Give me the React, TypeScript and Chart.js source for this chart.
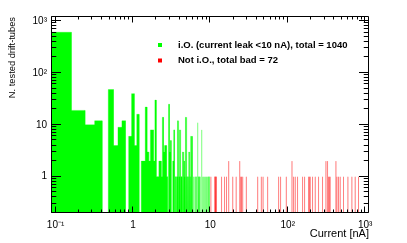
import { useEffect, useRef } from 'react';
import { Chart, registerables } from 'chart.js';

Chart.register(...registerables);

// ---- data ----
const BIN_WIDTH = 0.08; // nA, histogram bin width
const EMPTY = 0.01; // value used for the empty floor of a bin (below axis minimum)

// i.O. tubes: bin low edge [nA] and number of tubes
const goodCurrent = [
  0.08, 0.16, 0.24, 0.32, 0.48, 0.56, 0.64, 0.72, 0.88, 0.96,
  1.04, 1.12, 1.28, 1.36, 1.44, 1.52, 1.6, 1.68, 1.76, 1.84,
  1.92, 2.0, 2.08, 2.16, 2.24, 2.32, 2.4, 2.48, 2.56, 2.64,
  2.72, 2.88, 2.96, 3.04, 3.2, 3.28, 3.36, 3.52, 3.6, 3.68,
  3.76, 3.84, 3.92, 4.0, 4.08, 4.16, 4.24, 4.32, 4.4, 4.48,
  4.56, 4.64, 4.72, 4.8, 4.96, 5.12, 5.28, 5.44, 5.6, 5.76,
  5.84, 6.0, 6.24, 6.48, 6.8, 6.88, 7.12, 7.36, 7.68, 7.92,
  8.16, 8.4, 8.64, 8.88, 9.12, 9.36, 9.6,
];
const goodCount = [
  610, 19, 10, 12, 48, 4, 9, 12, 6, 40,
  4, 16, 2, 2, 22, 3, 2, 8, 8, 2,
  30, 1, 1, 2, 2, 1, 14, 3, 4, 4,
  1, 25, 3, 5, 2, 2, 8, 1, 1, 1,
  12, 11, 1, 8, 1, 1, 1, 3, 3, 2,
  2, 1, 1, 14, 1, 1, 3, 1, 6, 6,
  3, 1, 1, 1, 11, 1, 1, 1, 8, 1,
  1, 1, 1, 1, 1, 1, 1,
];

// Not i.O. tubes
const badCurrent = [
  10.1, 11.4, 11.8, 13.9, 15.2, 16.1, 17.2, 19.4, 21.5, 23.9,
  24.6, 25.2, 26.1, 29.1, 40.8, 45.5, 47.9, 54.9, 76.1, 80.7,
  95.7, 113.3, 118.8, 124.9, 133.7, 155.2, 164.8, 185.5, 190.5, 195.0,
  208.9, 226.4, 249.7, 281.1, 311.2, 326.4, 336.0, 345.0, 353.0, 418.8,
  431.5, 452.0, 475.6, 524.8, 598.0, 673.0, 743.0, 820.0,
];
const badCount = [
  1, 1, 1, 1, 1, 1, 2, 1, 1, 2,
  1, 1, 1, 1, 1, 1, 1, 1, 1, 1,
  1, 2, 1, 1, 1, 1, 1, 1, 1, 1,
  1, 1, 1, 1, 2, 2, 1, 1, 1, 2,
  1, 1, 1, 1, 1, 1, 1, 1,
];

const xTickValues = [0.1, 1, 10, 100, 1000];
const xTickLabels = ['10\u207B\u00B9', '1', '10', '10\u00B2', '10\u00B3'];
const yTickValues = [1, 10, 100, 1000];
const yTickLabels = ['1', '10', '10\u00B2', '10\u00B3'];

const legendLabels = ['i.O. (current leak <10 nA), total = 1040', 'Not i.O., total bad = 72'];
const xTitle = 'Current [nA]';
const yTitle = 'N. tested drift-tubes';

const GREEN = 'rgb(0,255,0)';
const RED = 'rgb(255,0,0)';
const FONT = "'Liberation Sans', Arial, Helvetica, sans-serif";

function histPoints(lows: number[], counts: number[]) {
  const pts: { x: number; y: number }[] = [];
  lows.forEach((lo, i) => {
    const hi = lo + BIN_WIDTH;
    pts.push({ x: lo, y: EMPTY }, { x: lo, y: counts[i] }, { x: hi, y: counts[i] }, { x: hi, y: EMPTY });
  });
  return pts;
}

const rootFrame = {
  id: 'rootFrame',
  afterDatasetsDraw(chart: any) {
    const { ctx, chartArea: a, scales } = chart;
    const xs = scales.x;
    const ys = scales.y;
    const L = a.left - 0.5;
    const R = a.right - 0.5;
    const T = a.top - 0.5;
    const B = a.bottom - 0.5;
    ctx.save();
    ctx.strokeStyle = '#000';
    ctx.lineWidth = 1;
    ctx.beginPath();
    ctx.rect(L, T, R - L, B - T);
    for (let e = -2; e <= 4; e++) {
      for (let m = 1; m <= 9; m++) {
        const v = m * Math.pow(10, e);
        if (v >= xs.min && v <= xs.max) {
          const px = Math.round(xs.getPixelForValue(v)) - 0.5;
          const len = m === 1 ? 6 : 3;
          ctx.moveTo(px, B);
          ctx.lineTo(px, B - len);
          ctx.moveTo(px, T);
          ctx.lineTo(px, T + len);
        }
        if (v >= ys.min && v <= ys.max) {
          const py = Math.round(ys.getPixelForValue(v)) - 0.5;
          const len = m === 1 ? 9.5 : 4.75;
          ctx.moveTo(L, py);
          ctx.lineTo(L + len, py);
          ctx.moveTo(R, py);
          ctx.lineTo(R - len, py);
        }
      }
    }
    ctx.stroke();
    ctx.restore();
  },
};

const rootLegend = {
  id: 'rootLegend',
  afterDraw(chart: any) {
    const { ctx } = chart;
    const colors = [GREEN, RED];
    const rows = [45, 60.5];
    ctx.save();
    ctx.font = `bold 9.5px ${FONT}`;
    ctx.textBaseline = 'middle';
    ctx.textAlign = 'left';
    legendLabels.forEach((label, i) => {
      ctx.fillStyle = colors[i];
      ctx.fillRect(158, rows[i] - 2, 4, 4);
      ctx.fillStyle = '#000';
      ctx.fillText(label, 178, rows[i]);
    });
    ctx.restore();
  },
};

export default function App() {
  const canvasRef = useRef<HTMLCanvasElement | null>(null);

  useEffect(() => {
    document.body.style.margin = '0';
    const canvas = canvasRef.current;
    if (!canvas) return;
    const chart = new Chart(canvas, {
      type: 'line',
      data: {
        datasets: [
          {
            label: legendLabels[0],
            data: histPoints(goodCurrent, goodCount),
            backgroundColor: GREEN,
            borderColor: GREEN,
            borderWidth: 0.3,
            fill: 'start',
            pointRadius: 0,
            tension: 0,
          },
          {
            label: legendLabels[1],
            data: histPoints(badCurrent, badCount),
            backgroundColor: RED,
            borderColor: RED,
            borderWidth: 0.3,
            fill: 'start',
            pointRadius: 0,
            tension: 0,
          },
        ],
      },
      options: {
        animation: false,
        responsive: false,
        devicePixelRatio: 1,
        layout: { padding: { left: 0, top: 17, right: 38, bottom: 0 } },
        plugins: { legend: { display: false }, tooltip: { enabled: false } },
        scales: {
          x: {
            type: 'logarithmic',
            min: 0.09,
            max: 1120,
            grid: { display: false, drawTicks: false, tickLength: 0 },
            border: { display: false },
            afterBuildTicks: (s: any) => {
              s.ticks = xTickValues.map((v) => ({ value: v }));
            },
            afterFit: (s: any) => {
              s.height = 30;
            },
            ticks: {
              autoSkip: false,
              maxRotation: 0,
              padding: 6,
              color: '#000',
              font: { family: FONT, size: 10 },
              callback: (v: any) => {
                const i = xTickValues.indexOf(Number(v));
                return i >= 0 ? xTickLabels[i] : '';
              },
            },
            title: {
              display: true,
              text: xTitle,
              align: 'end',
              color: '#000',
              font: { family: FONT, size: 11 },
              padding: { top: 0, bottom: 2 },
            },
          },
          y: {
            type: 'logarithmic',
            min: 0.2,
            max: 1200,
            grid: { display: false, drawTicks: false, tickLength: 0 },
            border: { display: false },
            afterBuildTicks: (s: any) => {
              s.ticks = yTickValues.map((v) => ({ value: v }));
            },
            afterFit: (s: any) => {
              s.width = 52;
            },
            ticks: {
              autoSkip: false,
              padding: 5,
              color: '#000',
              font: { family: FONT, size: 10 },
              callback: (v: any) => {
                const i = yTickValues.indexOf(Number(v));
                return i >= 0 ? yTickLabels[i] : '';
              },
            },
            title: {
              display: true,
              text: yTitle,
              align: 'end',
              color: '#000',
              font: { family: FONT, size: 9.3 },
              padding: { top: 7, bottom: 0 },
            },
          },
        },
      },
      plugins: [rootFrame, rootLegend],
    } as any);
    return () => chart.destroy();
  }, []);

  return (
    <div style={{ position: 'absolute', left: 0, top: 0, width: 407, height: 243, background: '#fff' }}>
      <canvas ref={canvasRef} width={407} height={243} style={{ display: 'block', width: 407, height: 243 }} />
    </div>
  );
}
